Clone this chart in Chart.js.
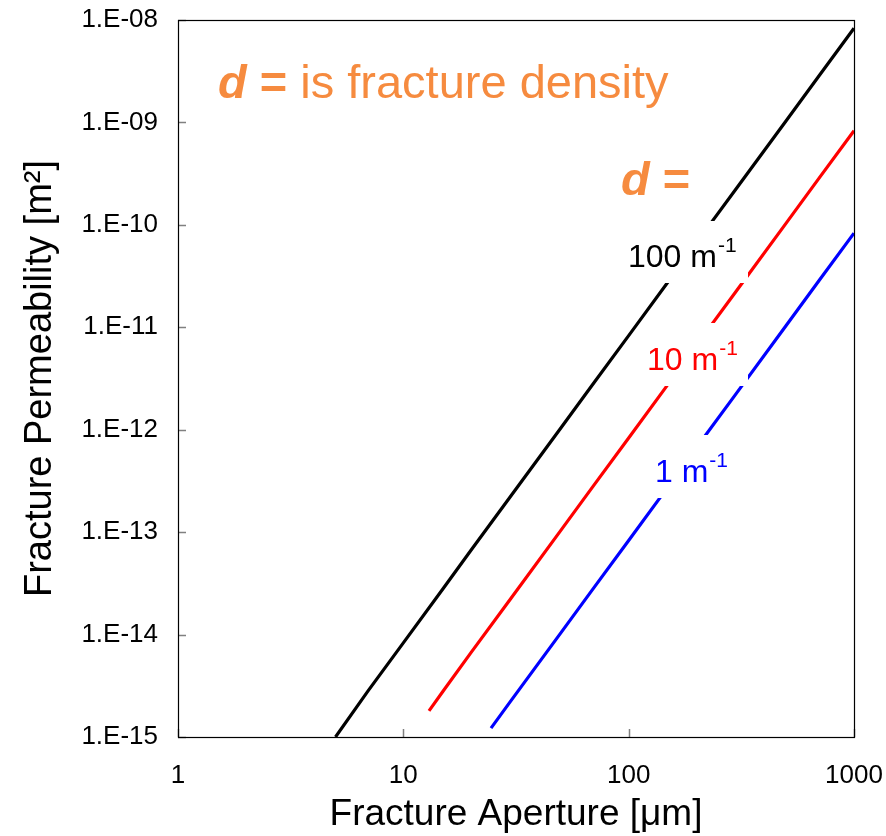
<!DOCTYPE html>
<html><head><meta charset="utf-8">
<script src="https://cdn.jsdelivr.net/npm/chart.js@4.4.0/dist/chart.umd.min.js"></script>
<style>html,body{margin:0;padding:0;background:#fff;}#wrap{width:886px;height:836px;}</style>
</head><body><div id="wrap"><canvas id="c" width="886" height="836"></canvas></div>
<script>
// Fracture aperture [µm] and permeability [m^2]
const apertureD100 = [5, 7, 10, 15, 20, 30, 50, 70, 100, 150, 200, 300, 500, 700, 1000];
const permD100 = [1.0e-15, 2.85e-15, 8.3e-15, 2.8e-14, 6.7e-14, 2.25e-13, 1.04e-12, 2.86e-12, 8.3e-12, 2.8e-11, 6.7e-11, 2.25e-10, 1.04e-9, 2.86e-9, 8.3e-9];
const apertureD10 = [13, 15, 20, 30, 50, 70, 100, 150, 200, 300, 500, 700, 1000];
const permD10 = [1.8e-15, 2.8e-15, 6.7e-15, 2.25e-14, 1.04e-13, 2.86e-13, 8.3e-13, 2.8e-12, 6.7e-12, 2.25e-11, 1.04e-10, 2.86e-10, 8.3e-10];
const apertureD1 = [24.5, 30, 50, 70, 100, 150, 200, 300, 500, 700, 1000];
const permD1 = [1.22e-15, 2.25e-15, 1.04e-14, 2.86e-14, 8.3e-14, 2.8e-13, 6.7e-13, 2.25e-12, 1.04e-11, 2.86e-11, 8.3e-11];

const seriesNames = ['100', '10', '1'];
const seriesColors = ['#000000', '#FF0000', '#0000FF'];

const xTickValues = [1, 10, 100, 1000];
const xTickLabels = ['1', '10', '100', '1000'];
const yTickValues = [1e-15, 1e-14, 1e-13, 1e-12, 1e-11, 1e-10, 1e-9, 1e-8];
const yTickLabels = ['1.E-15', '1.E-14', '1.E-13', '1.E-12', '1.E-11', '1.E-10', '1.E-09', '1.E-08'];

const xTitle = 'Fracture Aperture [\u03BCm]';
const yTitle = 'Fracture Permeability [m\u00B2]';
const noteText = ['d =', ' is fracture density'];
const ORANGE = '#F68B3F';
const FONT = '"Liberation Sans", Arial, sans-serif';

function pts(xs, ys) { return xs.map((x, i) => ({x: x, y: ys[i]})); }

function zeroPad(s) { s.paddingLeft = 0; s.paddingRight = 0; s.paddingTop = 0; s.paddingBottom = 0; }

const annotPlugin = {
  id: 'annot',
  afterDatasetsDraw(chart) {
    const ctx = chart.ctx;
    const a = chart.chartArea;
    const xs = chart.scales.x, ys = chart.scales.y;
    ctx.save();
    // white label boxes covering the lines
    ctx.fillStyle = '#ffffff';
    ctx.fillRect(622, 221, 126, 62);
    ctx.fillRect(640, 323, 108, 63);
    ctx.fillRect(648, 435, 100, 63);
    // series labels with superscript -1
    const labs = [
      {t: seriesNames[0] + ' m', x: 628, y: 267, c: seriesColors[0]},
      {t: seriesNames[1] + ' m', x: 647, y: 370, c: seriesColors[1]},
      {t: seriesNames[2] + ' m', x: 655, y: 482, c: seriesColors[2]}
    ];
    ctx.textBaseline = 'alphabetic';
    ctx.textAlign = 'left';
    labs.forEach(l => {
      ctx.fillStyle = l.c;
      ctx.font = '32px ' + FONT;
      ctx.fillText(l.t, l.x, l.y);
      const w = ctx.measureText(l.t).width;
      ctx.font = '21px ' + FONT;
      ctx.fillText('-1', l.x + w + 1, l.y - 15);
    });
    // orange notes
    ctx.fillStyle = ORANGE;
    ctx.font = 'italic bold 47px ' + FONT;
    ctx.fillText('d', 218, 98);
    let w = ctx.measureText('d').width;
    ctx.font = 'bold 47px ' + FONT;
    ctx.fillText(' =', 218 + w, 98);
    const w2 = ctx.measureText(' =').width;
    ctx.font = '47px ' + FONT;
    ctx.fillText(noteText[1], 218 + w + w2, 98);

    ctx.font = 'italic bold 47px ' + FONT;
    ctx.fillText('d', 621, 195);
    w = ctx.measureText('d').width;
    ctx.font = 'bold 47px ' + FONT;
    ctx.fillText(' =', 621 + w, 195);

    // inward tick marks
    ctx.strokeStyle = '#808080';
    ctx.lineWidth = 1.5;
    ctx.beginPath();
    yTickValues.forEach(v => {
      const py = Math.round(ys.getPixelForValue(v)) + 0.5;
      ctx.moveTo(a.left, py); ctx.lineTo(a.left + 8, py);
    });
    xTickValues.forEach(v => {
      const px = Math.round(xs.getPixelForValue(v)) + 0.5;
      ctx.moveTo(px, a.bottom); ctx.lineTo(px, a.bottom - 8);
    });
    ctx.stroke();
    // plot frame
    ctx.strokeStyle = '#000000';
    ctx.lineWidth = 1.2;
    ctx.strokeRect(a.left + 0.5, a.top + 0.5, a.right - a.left, a.bottom - a.top);
    ctx.restore();
  }
};

new Chart(document.getElementById('c'), {
  type: 'line',
  data: {
    datasets: [
      {label: 'd = 100 m-1', data: pts(apertureD100, permD100), borderColor: seriesColors[0]},
      {label: 'd = 10 m-1', data: pts(apertureD10, permD10), borderColor: seriesColors[1]},
      {label: 'd = 1 m-1', data: pts(apertureD1, permD1), borderColor: seriesColors[2]}
    ].map(d => Object.assign(d, {borderWidth: 3.2, pointRadius: 0, fill: false, tension: 0}))
  },
  options: {
    responsive: false,
    animation: false,
    devicePixelRatio: 1,
    layout: {padding: {top: 20, right: 32, left: 0, bottom: 0}},
    plugins: {legend: {display: false}, tooltip: {enabled: false}},
    scales: {
      x: {
        type: 'logarithmic', min: 1, max: 1000, position: 'bottom',
        grid: {display: false, drawTicks: false},
        border: {display: false},
        afterBuildTicks: s => { s.ticks = xTickValues.map(v => ({value: v})); },
        afterFit: s => { s.height = 99; zeroPad(s); },
        ticks: {
          autoSkip: false, maxRotation: 0, padding: 23, color: '#000',
          font: {family: FONT, size: 26},
          callback: (v, i) => xTickLabels[i]
        },
        title: {display: true, text: xTitle, color: '#000', padding: {top: 0, bottom: 0},
          font: {family: FONT, size: 37, lineHeight: 1.15}}
      },
      y: {
        type: 'logarithmic', min: 1e-15, max: 1e-8, position: 'left',
        grid: {display: false, drawTicks: false},
        border: {display: false},
        afterBuildTicks: s => { s.ticks = yTickValues.map(v => ({value: v})); },
        afterFit: s => { s.width = 178; zeroPad(s); },
        ticks: {
          autoSkip: false, padding: 20, color: '#000',
          font: {family: FONT, size: 26},
          callback: (v, i) => yTickLabels[i]
        },
        title: {display: true, text: yTitle, color: '#000', padding: {top: 18, bottom: 0},
          font: {family: FONT, size: 38, lineHeight: 1.2}}
      }
    }
  },
  plugins: [annotPlugin]
});
</script></body></html>
